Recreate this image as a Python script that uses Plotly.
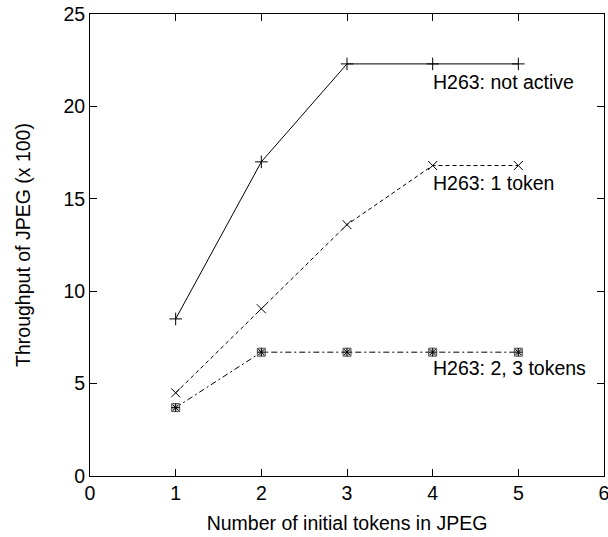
import plotly.graph_objects as go

tokens = [1, 2, 3, 4, 5]
not_active = [8.5, 17.0, 22.3, 22.3, 22.3]
one_token = [4.5, 9.05, 13.6, 16.8, 16.8]
two_tokens = [3.7, 6.7, 6.7, 6.7, 6.7]
three_tokens = [3.7, 6.7, 6.7, 6.7, 6.7]

labels = ["H263: not active", "H263: 1 token", "H263: 2, 3 tokens"]
label_x = [3.98, 3.98, 3.98]
label_y = [21.3, 15.85, 5.85]

font = "Liberation Sans, Arial, sans-serif"
fs = 19.5
fig = go.Figure()
fig.add_trace(go.Scatter(x=tokens, y=not_active, mode="lines+markers",
                         line=dict(color="black", width=1),
                         marker=dict(symbol="cross-thin", size=9, color="black",
                                     line=dict(color="black", width=1))))
fig.add_trace(go.Scatter(x=tokens, y=one_token, mode="lines+markers",
                         line=dict(color="black", width=1, dash="4px,3px"),
                         marker=dict(symbol="x-thin", size=9, color="black",
                                     line=dict(color="black", width=1))))
fig.add_trace(go.Scatter(x=tokens, y=two_tokens, mode="lines+markers",
                         line=dict(color="black", width=1, dash="6px,3px,2px,3px"),
                         marker=dict(symbol="square", size=8, color="#d0d0d0",
                                     line=dict(color="#555555", width=1))))
fig.add_trace(go.Scatter(x=tokens, y=three_tokens, mode="markers",
                         marker=dict(symbol="asterisk-open", size=7, color="black",
                                     line=dict(color="black", width=1))))

for t, xx, yy in zip(labels, label_x, label_y):
    fig.add_annotation(x=xx, y=yy, text=t, showarrow=False, xanchor="left",
                       yanchor="middle", font=dict(size=fs, color="black", family=font))

axis_common = dict(showgrid=False, zeroline=False, showline=True, linecolor="black",
                   linewidth=1, mirror="allticks", ticks="inside", ticklen=7,
                   tickcolor="black", tickfont=dict(size=fs, color="black", family=font))
fig.update_xaxes(range=[0, 6], tickvals=[0, 1, 2, 3, 4, 5, 6],
                 ticklabeloverflow="allow",
                 title=dict(text="Number of initial tokens in JPEG",
                            font=dict(size=fs, color="black", family=font), standoff=12),
                 **axis_common)
fig.update_yaxes(range=[0, 25], tickvals=[0, 5, 10, 15, 20, 25],
                 title=dict(text="Throughput of JPEG (x 100)",
                            font=dict(size=fs, color="black", family=font), standoff=27),
                 **axis_common)
fig.update_layout(width=608, height=537, showlegend=False,
                  margin=dict(l=90, r=4, t=14, b=61, autoexpand=False),
                  plot_bgcolor="white", paper_bgcolor="white")
fig.write_html("out.html", post_script="document.body.style.margin='0';",
               config={"displayModeBar": False})
